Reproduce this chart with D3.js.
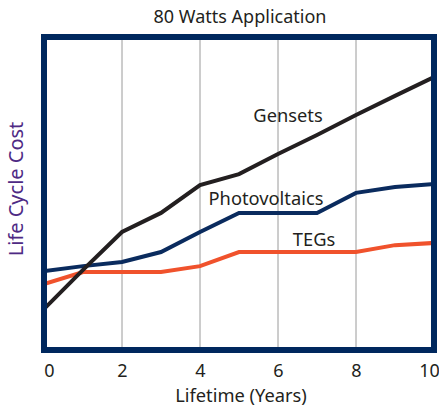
<!DOCTYPE html>
<html>
<head>
<meta charset="utf-8">
<script src="https://cdn.jsdelivr.net/npm/d3@7"></script>
<style>
  body { margin: 0; background: #fff; }
  svg text { font-family: "Noto Sans", "Open Sans", sans-serif; }
</style>
</head>
<body>
<div id="chart"></div>
<script>
// data (arbitrary cost units)
var years = [0, 1, 2, 3, 4, 5, 6, 7, 8, 9, 10];
var gensets = [13.1, 25.6, 37.7, 43.8, 52.7, 56.2, 62.6, 68.7, 75.1, 81.2, 87.2];
var photovoltaics = [25.2, 26.8, 28.1, 31.3, 37.7, 43.8, 43.8, 43.8, 50.2, 52.1, 53.0];
var tegs = [21.1, 24.9, 24.9, 24.9, 26.8, 31.3, 31.3, 31.3, 31.3, 33.5, 34.2];
var xTicks = [0, 2, 4, 6, 8, 10];
var gridYears = [2, 4, 6, 8];

(function() {
  var width = 439;
  var height = 407;
  var pLeft = 44, pRight = 434, pTop = 37, pBottom = 350;

  var svg = d3.select("#chart")
    .append("svg")
    .attr("width", width)
    .attr("height", height);

  var xScale = d3.scaleLinear().domain([0, 10]).range([pLeft, pRight]);
  var yScale = d3.scaleLinear().domain([0, 100]).range([pBottom, pTop]);

  svg.append("defs").append("clipPath")
    .attr("id", "plotClip")
    .append("rect")
    .attr("x", pLeft + 3).attr("y", pTop + 3)
    .attr("width", pRight - pLeft - 6).attr("height", pBottom - pTop - 6);

  // vertical grid
  svg.selectAll("line.grid")
    .data(gridYears)
    .enter()
    .append("line")
    .attr("class", "grid")
    .attr("x1", function(d) { return xScale(d); })
    .attr("x2", function(d) { return xScale(d); })
    .attr("y1", pTop)
    .attr("y2", pBottom)
    .attr("stroke", "#9a9a9a")
    .attr("stroke-width", 1);

  var series = [
    { name: "TEGs", values: tegs, color: "#f0522c" },
    { name: "Photovoltaics", values: photovoltaics, color: "#0a2b5e" },
    { name: "Gensets", values: gensets, color: "#231f20" }
  ];

  var line = d3.line()
    .x(function(d, i) { return xScale(years[i]); })
    .y(function(d) { return yScale(d); });

  var plot = svg.append("g").attr("clip-path", "url(#plotClip)");
  series.forEach(function(s) {
    plot.append("path")
      .datum(s.values)
      .attr("d", line)
      .attr("fill", "none")
      .attr("stroke", s.color)
      .attr("stroke-width", 4)
      .attr("stroke-linejoin", "miter");
  });

  // frame
  svg.append("rect")
    .attr("x", pLeft).attr("y", pTop)
    .attr("width", pRight - pLeft).attr("height", pBottom - pTop)
    .attr("fill", "none")
    .attr("stroke", "#00285e")
    .attr("stroke-width", 6);

  // x axis tick labels
  var xAxis = d3.axisBottom(xScale).tickValues(xTicks).tickSize(0).tickPadding(0);
  var gx = svg.append("g")
    .attr("transform", "translate(0," + (pBottom + 27) + ")")
    .call(xAxis);
  gx.select(".domain").remove();
  gx.selectAll("text")
    .attr("font-size", 18)
    .attr("fill", "#231f20")
    .attr("dy", 0)
    .attr("dx", function(d) { return d === 0 ? 5 : (d === 10 ? -5 : 0); });

  // titles
  svg.append("text")
    .attr("x", 240).attr("y", 23)
    .attr("text-anchor", "middle")
    .attr("font-size", 18)
    .attr("fill", "#231f20")
    .text("80 Watts Application");

  svg.append("text")
    .attr("x", 241).attr("y", 402)
    .attr("text-anchor", "middle")
    .attr("font-size", 18.3)
    .attr("fill", "#231f20")
    .text("Lifetime (Years)");

  svg.append("text")
    .attr("transform", "translate(23," + 189 + ")rotate(-90)")
    .attr("text-anchor", "middle")
    .attr("font-size", 20)
    .attr("fill", "#4e2a84")
    .text("Life Cycle Cost");

  // series labels
  var labels = [
    { text: "Gensets", x: 288, y: 122 },
    { text: "Photovoltaics", x: 266, y: 205 },
    { text: "TEGs", x: 314, y: 246 }
  ];
  svg.selectAll("text.serieslabel")
    .data(labels)
    .enter()
    .append("text")
    .attr("class", "serieslabel")
    .attr("x", function(d) { return d.x; })
    .attr("y", function(d) { return d.y; })
    .attr("text-anchor", "middle")
    .attr("font-size", 18.3)
    .attr("fill", "#231f20")
    .text(function(d) { return d.text; });
})();
</script>
</body>
</html>
